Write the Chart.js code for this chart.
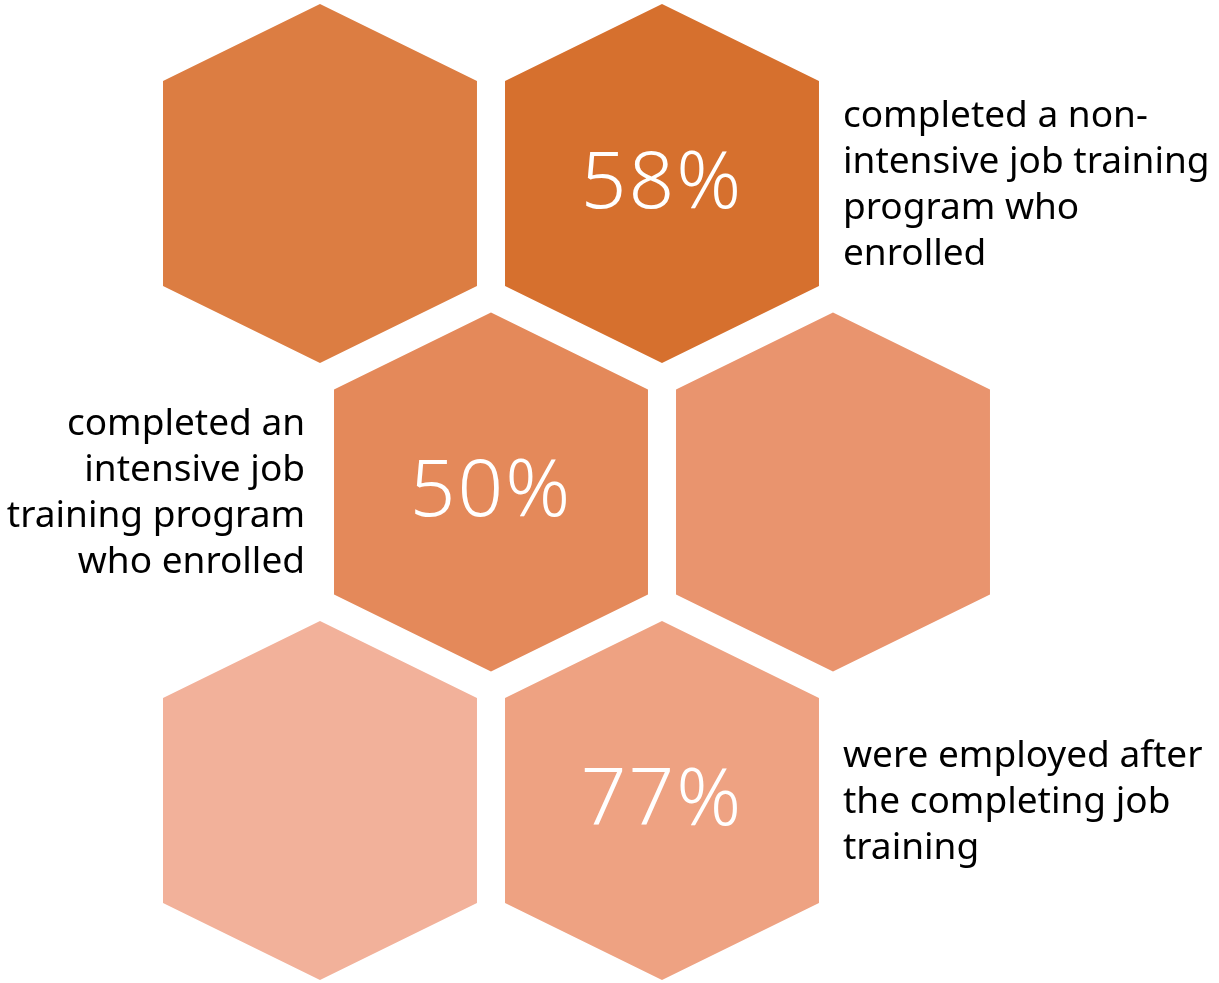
<!DOCTYPE html>
<html>
<head>
<meta charset="utf-8">
<title>Job training outcomes</title>
<script src="https://cdn.jsdelivr.net/npm/chart.js@4.4.1/dist/chart.umd.min.js"></script>
<style>
  html, body { margin: 0; padding: 0; background: #ffffff; }
  #wrap { position: relative; width: 1219px; height: 983px; }
</style>
</head>
<body>
<div id="wrap"><canvas id="honeycomb"></canvas></div>
<script>
// honeycomb cells: grid column / row, value shown inside, caption beside it
const cellCols = [0, 2, 1, 3, 0, 2];
const cellRows = [0, 0, 1, 1, 2, 2];
const cellValues = [null, 58, 50, null, null, 77];
const cellCaptions = [
  null,
  ["completed a non-", "intensive job training", "program who", "enrolled"],
  ["completed an", "intensive job", "training program", "who enrolled"],
  null,
  null,
  ["were employed after", "the completing job", "training"],
];

const cellColors = ["#DC7D42", "#D6702E", "#E4895A", "#E9946E", "#F2B19A", "#EEA282"];
const captionSide = ["right", "right", "left", "right", "right", "right"];

// hexagon half sizes in axis units
const HALF_W = 0.918;
const HALF_H = 0.582;
const SHOULDER = 0.332;

function hexPoints(cx, cy) {
  return [
    { x: cx, y: cy - HALF_H },
    { x: cx + HALF_W, y: cy - SHOULDER },
    { x: cx + HALF_W, y: cy + SHOULDER },
    { x: cx, y: cy + HALF_H },
    { x: cx - HALF_W, y: cy + SHOULDER },
    { x: cx - HALF_W, y: cy - SHOULDER },
    { x: cx, y: cy - HALF_H },
  ];
}

const datasets = cellCols.map(function (col, i) {
  return {
    label: "cell " + i,
    data: hexPoints(col, cellRows[i]),
    showLine: true,
    fill: "shape",
    backgroundColor: cellColors[i],
    borderColor: cellColors[i],
    borderWidth: 0,
    pointRadius: 0,
    tension: 0,
  };
});

const labelPlugin = {
  id: "cellLabels",
  afterDatasetsDraw(chart) {
    const ctx = chart.ctx;
    const xs = chart.scales.x;
    const ys = chart.scales.y;
    ctx.save();
    cellCols.forEach(function (col, i) {
      const px = xs.getPixelForValue(col);
      const py = ys.getPixelForValue(cellRows[i]);
      if (cellValues[i] !== null) {
        ctx.fillStyle = "#ffffff";
        ctx.font = "300 80px 'Noto Sans', sans-serif";
        ctx.letterSpacing = "2px";
        ctx.textAlign = "center";
        ctx.textBaseline = "alphabetic";
        ctx.fillText(cellValues[i] + "%", px, py + 24.5);
        ctx.letterSpacing = "0px";
      }
      const lines = cellCaptions[i];
      if (lines) {
        const right = captionSide[i] === "right";
        const edge = xs.getPixelForValue(col + (right ? HALF_W : -HALF_W));
        const tx = right ? edge + 24 : edge - 29;
        ctx.fillStyle = "#000000";
        ctx.font = "400 37px 'Noto Sans', sans-serif";
        ctx.textAlign = right ? "left" : "right";
        const lh = 46;
        lines.forEach(function (line, k) {
          const ty = py + (k - (lines.length - 1) / 2) * lh + 12.5;
          ctx.fillText(line, tx, ty);
        });
      }
    });
    ctx.restore();
  },
};

new Chart(document.getElementById("honeycomb"), {
  type: "scatter",
  data: { datasets: datasets },
  options: {
    responsive: true,
    maintainAspectRatio: false,
    animation: false,
    layout: { padding: 0 },
    plugins: { legend: { display: false }, tooltip: { enabled: false } },
    scales: {
      x: { type: "linear", min: -1.8713, max: 5.2573, display: false },
      y: { type: "linear", min: -0.5948, max: 2.5916, reverse: true, display: false },
    },
  },
  plugins: [labelPlugin],
});
</script>
</body>
</html>
